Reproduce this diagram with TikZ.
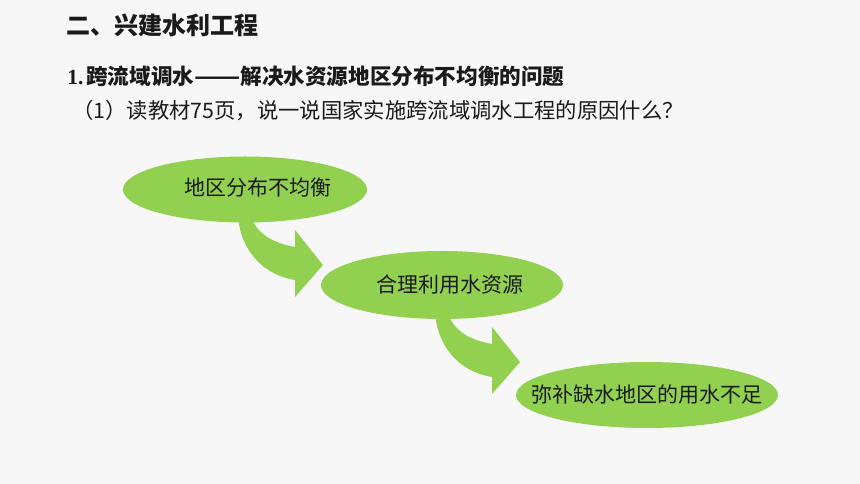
\documentclass[tikz,border=0pt]{standalone}
\usepackage{fontspec}
\usepackage{graphicx}
\setmainfont{Liberation Serif}
\newfontfamily\cjk{Noto Sans CJK SC}
\usetikzlibrary{shapes.geometric}
\definecolor{bg}{HTML}{F7F7F7}
\definecolor{leaf}{HTML}{92D050}
\definecolor{ink}{HTML}{1A1A1A}
\tikzset{
  oval/.style={ellipse, fill=leaf, draw=none, inner sep=0pt},
  ovaltext/.style={font=\cjk\fontsize{15.75pt}{18pt}\selectfont, text=ink, inner sep=0pt},
  heading/.style={font=\cjk\bfseries\fontsize{18pt}{21pt}\selectfont, text=ink, anchor=west, inner sep=0pt},
  subhead/.style={font=\cjk\bfseries\fontsize{16.2pt}{18pt}\selectfont, text=ink, anchor=west, inner sep=0pt},
  bodytext/.style={font=\cjk\fontsize{16pt}{18pt}\selectfont, text=ink, anchor=west, inner sep=0pt},
  bendarrow/.pic={
    \fill[leaf] (0,-10) .. controls (1,20) and (20,50) .. (57,56)
      -- (57,73) -- (85,41) -- (57,6) -- (57,23)
      .. controls (35,19) and (18,10) .. (12,-10) -- cycle;
  }
}
\begin{document}
\begin{tikzpicture}[x=0.75pt,y=-0.75pt]
\useasboundingbox (0,0) rectangle (860,484);
\fill[bg] (0,0) rectangle (860,484);

\node[heading] (title) at (66,25) {二、兴建水利工程};
\node[subhead] (sub) at (67,76) {\makebox[14.25pt][l]{\rmfamily\bfseries 1.}跨流域调水\scalebox{1.25}[1]{——}解决水资源地区分布不均衡的问题};
\node[bodytext] (q) at (72,111) {（1）读教材75页，说一说国家实施跨流域调水工程的原因什么？};

\pic (a1) at (238,224) {bendarrow};
\pic (a2) at (435,321) {bendarrow};

\node[oval, minimum width=183pt, minimum height=49.5pt] (e1) at (245,189.5) {};
\node[oval, minimum width=181.5pt, minimum height=51pt] (e2) at (442,285) {};
\node[oval, minimum width=196.5pt, minimum height=49.5pt] (e3) at (647,395) {};

\node[ovaltext] (t1) at (257.5,188) {地区分布不均衡};
\node[ovaltext] (t2) at (450,285) {合理利用水资源};
\node[ovaltext] (t3) at (647,395) {弥补缺水地区的用水不足};
\end{tikzpicture}
\end{document}
